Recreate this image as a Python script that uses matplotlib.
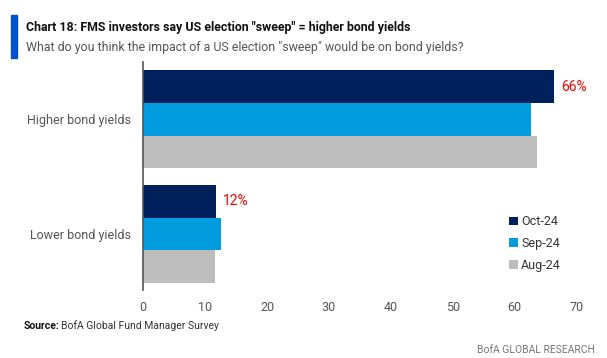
import matplotlib
matplotlib.use('Agg')
import matplotlib.pyplot as plt
import numpy as np

plt.rcParams['font.family'] = ['Roboto', 'DejaVu Sans']

categories = ['Higher bond yields', 'Lower bond yields']
series = ['Oct-24', 'Sep-24', 'Aug-24']
oct_24 = [66.3, 11.7]
sep_24 = [62.7, 12.5]
aug_24 = [63.6, 11.6]
labels = ['66%', '12%']
xticks = [0, 10, 20, 30, 40, 50, 60, 70]

colors = ['#00205B', '#009CDE', '#BDBDBD']

fig = plt.figure(figsize=(6.07, 3.58), dpi=100)
ax = fig.add_axes([0.236, 0.19, 0.714, 0.637])

# higher bond yields on top
ypos = np.array([1, 0])
h = 0.284
for i, (name, vals) in enumerate(zip(series, [oct_24, sep_24, aug_24])):
    ax.barh(ypos + (1 - i) * h, vals, height=h, color=colors[i], label=name)

for y, v, t in zip(ypos, oct_24, labels):
    ax.text(v + 1.2, y + h, t, color='#FF0000', fontsize=10, va='center', ha='left')

ax.set_xlim(0, 70)
ax.set_ylim(-0.49, 1.5)
ax.set_xticks(xticks)
ax.set_yticks(ypos)
ax.set_yticklabels(categories)
ax.tick_params(length=0, labelsize=9, colors='#555555', pad=8)
ax.tick_params(axis='y', pad=9)
for s in ['top', 'right', 'bottom']:
    ax.spines[s].set_visible(False)
ax.spines['left'].set_color('#555555')
ax.spines['left'].set_linewidth(1.2)

leg = ax.legend(loc='lower right', bbox_to_anchor=(0.99, 0.03), frameon=False,
                fontsize=9, handlelength=0.7, handleheight=0.7, handletextpad=0.3,
                labelspacing=0.7, labelcolor='#333333')

# header
fig.patches.append(plt.Rectangle((11 / 607, 1 - 58 / 358), 6 / 607, 43 / 358,
                                 transform=fig.transFigure, color='#0052CC'))
fig.text(26 / 607, 1 - 28 / 358, 'Chart 18: FMS investors say US election "sweep" = higher bond yields',
         fontsize=8.9, fontweight='bold', color='#111111', va='center')
fig.text(26 / 607, 1 - 47 / 358, 'What do you think the impact of a US election "sweep" would be on bond yields?',
         fontsize=8.9, color='#555555', va='center')
fig.text(24 / 607, 1 - 326 / 358, 'Source:', fontsize=7.5, fontweight='bold',
         color='#111111', va='center')
fig.text(61 / 607, 1 - 326 / 358, 'BofA Global Fund Manager Survey',
         fontsize=7.5, color='#333333', va='center')
fig.text(595 / 607, 1 - 350 / 358, 'BofA GLOBAL RESEARCH', fontsize=7.5, color='#777777',
         va='center', ha='right')

fig.savefig('out.png', dpi=100)
